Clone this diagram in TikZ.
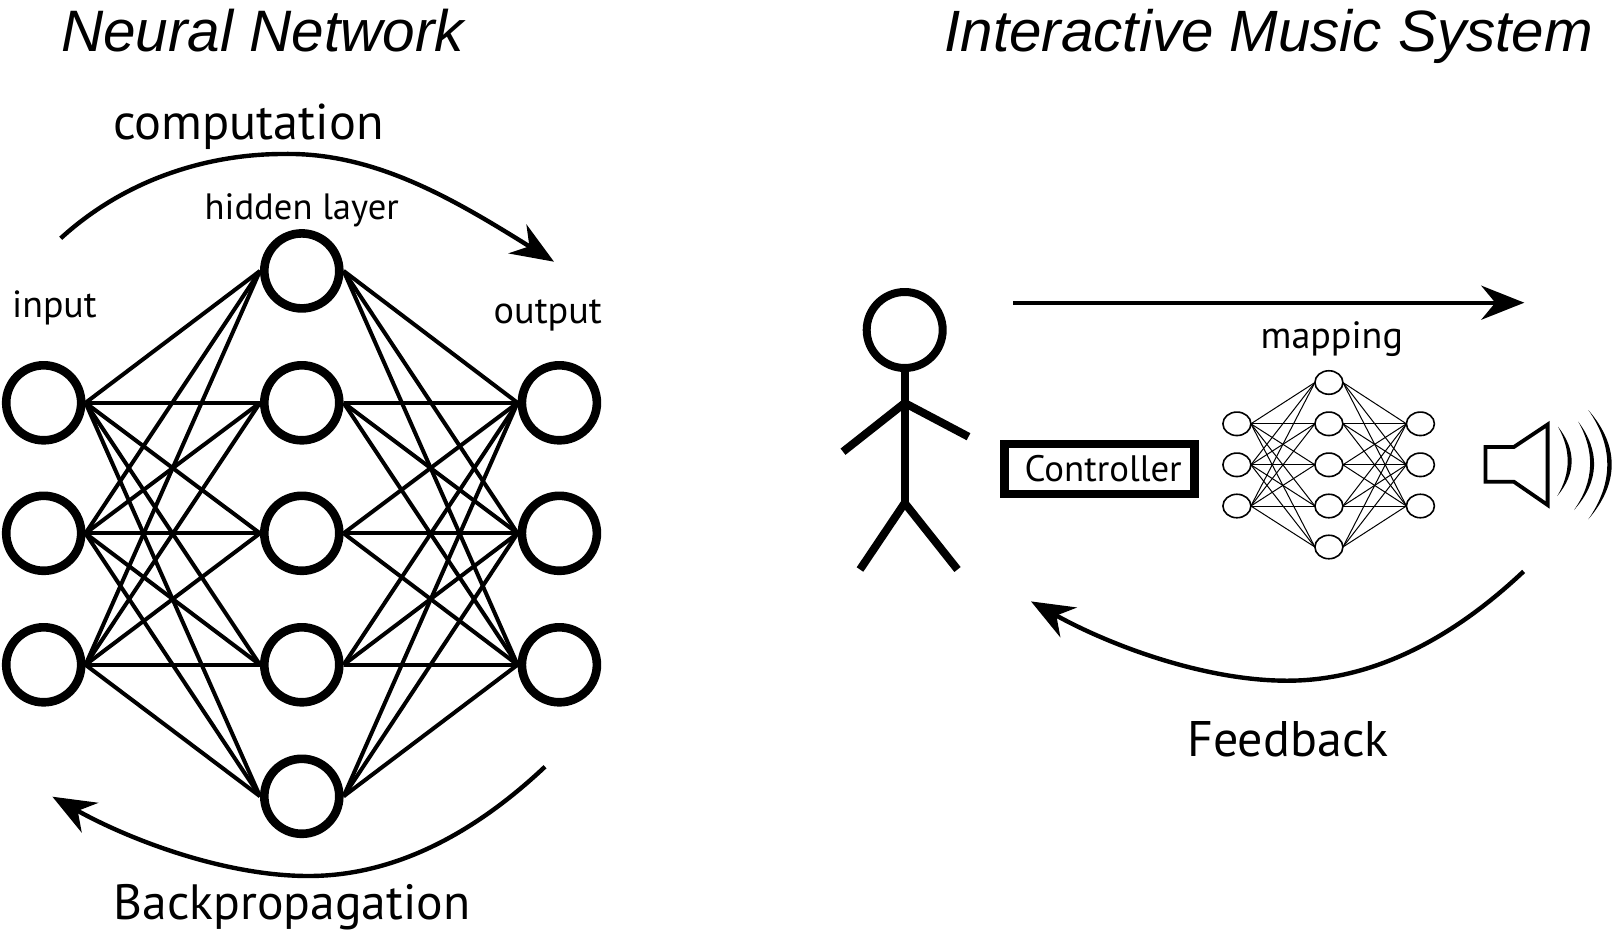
\documentclass[tikz,border=0pt]{standalone}
\usepackage{fontspec}
\setmainfont{PT Sans}
\newfontfamily\titlefont{Liberation Sans}
\usetikzlibrary{arrows.meta,shapes.geometric}
\tikzset{
  x=1pt,y=-1pt,
  bignode/.style={circle,draw=black,line width=8.6pt,minimum size=75pt,inner sep=0pt,fill=white},
  bigedge/.style={line width=4pt},
  smallnode/.style={ellipse,draw=black,line width=1.6pt,minimum width=28pt,minimum height=23.5pt,inner sep=0pt,fill=white,outer sep=0pt},
  smalledge/.style={line width=1pt},
  limb/.style={line width=8pt},
  flow/.style={line width=4.4pt,-{Stealth[length=43pt,width=34pt,inset=14pt]}},
  lab/.style={anchor=base west,inner sep=0pt,font=\fontsize{#1}{#1}\selectfont},
  titletext/.style={anchor=base west,inner sep=0pt,font=\titlefont\itshape\fontsize{#1}{60}\selectfont},
  wave/.style={fill=black,draw=none}
}
\begin{document}
\begin{tikzpicture}
\useasboundingbox (0,0) rectangle (1612,932);
\node[titletext=58.5] (t1) at (61,51.5) {Neural Network};
\node[titletext=58.3] (t2) at (944.5,51.5) {Interactive Music System};
\node[lab=50.3] (comp) at (113,139) {computation};
\node[lab=49.6] (back) at (113.5,919.5) {Backpropagation};
\node[lab=50] (feed) at (1187,756.5) {Feedback};
\node[lab=36.6] (hl) at (204.5,219) {hidden layer};
\node[lab=37.8] (inp) at (12,317.5) {input};
\node[lab=38.2] (outp) at (493.5,323.5) {output};
\node[lab=38] (mapl) at (1260.5,348) {mapping};
% large network
\foreach \n/\y in {1/402.8,2/533.3,3/664.8}{
  \node[bignode] (i\n) at (43.7,\y) {};
  \node[bignode] (o\n) at (559.4,\y) {};
}
\foreach \n/\y in {1/270.9,2/402.8,3/533.3,4/664.8,5/796.3}{
  \node[bignode] (h\n) at (301.8,\y) {};
}
\foreach \a in {1,2,3}\foreach \b in {1,...,5}{
  \draw[bigedge] (i\a.east) -- (h\b.west);
  \draw[bigedge] (h\b.east) -- (o\a.west);
}
% small network
\foreach \n/\y in {1/423.8,2/464.8,3/506}{
  \node[smallnode] (si\n) at (1236.9,\y) {};
  \node[smallnode] (so\n) at (1420.4,\y) {};
}
\foreach \n/\y in {1/382.5,2/423.8,3/464.8,4/506,5/547}{
  \node[smallnode] (sh\n) at (1328.9,\y) {};
}
\foreach \a in {1,2,3}\foreach \b in {1,...,5}{
  \draw[smalledge] (si\a.east) -- (sh\b.west);
  \draw[smalledge] (sh\b.east) -- (so\a.west);
}
% curved arrows
\coordinate (cs) at (60.7,238.3);
\coordinate (cm) at (283,154);
\coordinate (ce) at (554,261.7);
\draw[flow] (cs) .. controls (130,175) and (215,154) .. (cm) .. controls (375,152) and (455,200) .. (ce);
\coordinate (bs) at (545,766.7);
\coordinate (bm) at (308.5,876);
\coordinate (be) at (52.4,796.7);
\draw[flow] (bs) .. controls (480,828) and (400,876) .. (bm) .. controls (225,876) and (130,840) .. (be);
\coordinate (fs) at (1523.6,571.4);
\coordinate (fm) at (1287.1,680.7);
\coordinate (fe) at (1031,601.4);
\draw[flow] (fs) .. controls (1458.6,632.7) and (1378.6,680.7) .. (fm) .. controls (1203.6,680.7) and (1108.6,644.7) .. (fe);
\coordinate (ts) at (1013,302.7);
\coordinate (te) at (1524.3,302.7);
\draw[flow] (ts) -- (te);
% stick figure
\node[circle,draw=black,line width=8pt,minimum size=76pt,inner sep=0pt] (head) at (904.7,330) {};
\coordinate (neck) at (904.7,403);
\coordinate (hip) at (904.7,503);
\coordinate (handl) at (843,451.7);
\coordinate (handr) at (968.5,436.7);
\coordinate (footl) at (860,569.5);
\coordinate (footr) at (957.5,569.5);
\draw[limb] (head.south) -- (hip);
\draw[limb] (handl) -- (neck) -- (handr);
\draw[limb] (footl) -- (hip) -- (footr);
% controller
\node[draw=black,line width=8.5pt,minimum width=190pt,minimum height=50pt,inner sep=0pt,anchor=center] (ctrl) at (1099.6,469.2) {};
\node[lab=36.8] (ctrlt) at (1024.5,481) {Controller};
% speaker
\draw[line width=3.8pt,miter limit=10] (1485.5,447) -- (1513.8,447) -- (1547.6,424.5) -- (1547.6,505) -- (1513.8,481.7) -- (1485.5,481.7) -- cycle;
\fill[wave] (1558,426.7) .. controls (1576.3,450) and (1576.3,473) .. (1557.3,496) .. controls (1571,473) and (1571,450) .. (1558,426.7) -- cycle;
\fill[wave] (1578.3,421.7) .. controls (1600,451) and (1600,481) .. (1574,510) .. controls (1594.7,481) and (1594.7,451) .. (1578.3,421.7) -- cycle;
\fill[wave] (1588.3,410) .. controls (1619.5,446) and (1619.5,483) .. (1588.3,519.3) .. controls (1613.6,483) and (1613.6,446) .. (1588.3,410) -- cycle;
\end{tikzpicture}
\end{document}
